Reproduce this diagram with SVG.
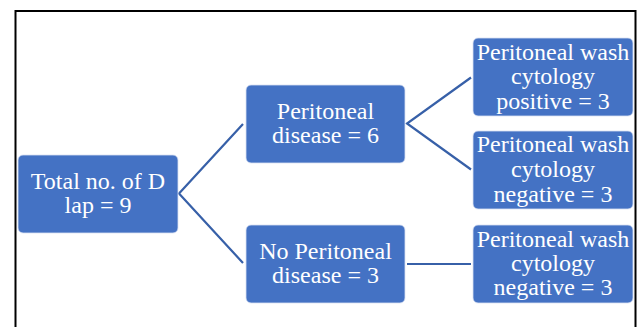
<svg xmlns="http://www.w3.org/2000/svg" width="641" height="327" viewBox="0 0 641 327">
<style>
.box{fill:#4472C4;stroke:#D9E1F2;stroke-width:0.8}
.t{font-family:"Liberation Serif","Times New Roman",serif;font-size:24px;fill:#FFFFFF;text-anchor:middle}
.c{fill:none;stroke:#3760A8;stroke-width:2.2}
</style>
<rect x="0" y="0" width="641" height="327" fill="#FFFFFF"/>
<rect x="15.5" y="11" width="620" height="330" fill="none" stroke="#000000" stroke-width="2"/>
<g id="connectors">
<polyline class="c" points="243,124 179,193.5 243,263"/>
<polyline class="c" points="471,77.5 407,123.5 471,169.5"/>
<line class="c" x1="407" y1="264" x2="471" y2="264"/>
</g>
<g id="total">
<rect class="box" x="18" y="155" width="160" height="78" rx="5"/>
<text class="t" x="98" y="189">Total no. of D</text>
<text class="t" x="98" y="213">lap = 9</text>
</g>
<g id="peritoneal">
<rect class="box" x="246" y="85" width="159" height="78" rx="5"/>
<text class="t" x="325.5" y="118.5">Peritoneal</text>
<text class="t" x="325.5" y="143">disease = 6</text>
</g>
<g id="no-peritoneal">
<rect class="box" x="246" y="225" width="159" height="78" rx="5"/>
<text class="t" x="325.5" y="258.5">No Peritoneal</text>
<text class="t" x="325.5" y="283">disease = 3</text>
</g>
<g id="wash-positive">
<rect class="box" x="473" y="38" width="160" height="78" rx="5"/>
<text class="t" x="553" y="60">Peritoneal wash</text>
<text class="t" x="553" y="84">cytology</text>
<text class="t" x="553" y="108.5">positive = 3</text>
</g>
<g id="wash-negative-1">
<rect class="box" x="473" y="131" width="160" height="78" rx="5"/>
<text class="t" x="553" y="152">Peritoneal wash</text>
<text class="t" x="553" y="176.5">cytology</text>
<text class="t" x="553" y="201.5">negative = 3</text>
</g>
<g id="wash-negative-2">
<rect class="box" x="473" y="225" width="160" height="78" rx="5"/>
<text class="t" x="553" y="247">Peritoneal wash</text>
<text class="t" x="553" y="271">cytology</text>
<text class="t" x="553" y="295">negative = 3</text>
</g>
</svg>
